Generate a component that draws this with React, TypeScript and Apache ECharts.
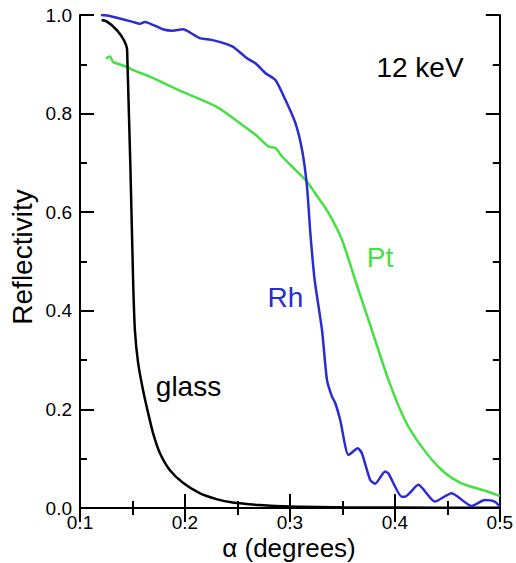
import React, { useEffect, useRef } from "react";
import * as echarts from "echarts";

const xTicks = [0.1, 0.2, 0.3, 0.4, 0.5];
const yTicks = [0, 0.2, 0.4, 0.6, 0.8, 1.0];

const glass: [number, number][] = [
  [0.1206, 0.99], [0.1254, 0.987], [0.1349, 0.97], [0.1418, 0.949], [0.1449, 0.929],
  [0.1506, 0.4625], [0.1523, 0.361], [0.1554, 0.294], [0.1601, 0.239], [0.1649, 0.193],
  [0.1696, 0.152], [0.176, 0.112], [0.1855, 0.077], [0.1981, 0.051], [0.214, 0.03],
  [0.2299, 0.018], [0.2454, 0.011], [0.271, 0.006], [0.3, 0.003], [0.35, 0.0015],
  [0.4, 0.001], [0.5, 0.0005],
];

const rh: [number, number][] = [
  [0.12, 1.0], [0.1285, 0.998], [0.1504, 0.986], [0.157, 0.982], [0.1618, 0.986],
  [0.1789, 0.971], [0.1884, 0.968], [0.1979, 0.971], [0.214, 0.953], [0.2264, 0.949],
  [0.2454, 0.936], [0.2587, 0.913], [0.2672, 0.902], [0.2767, 0.882], [0.2862, 0.868],
  [0.2957, 0.828], [0.3052, 0.781], [0.3116, 0.726], [0.3163, 0.652], [0.3195, 0.557],
  [0.3236, 0.4625], [0.3306, 0.361], [0.3353, 0.26], [0.3401, 0.226], [0.3432, 0.213],
  [0.348, 0.178], [0.3559, 0.1075], [0.3648, 0.121], [0.3686, 0.111], [0.3765, 0.057],
  [0.3812, 0.049], [0.3907, 0.074], [0.3939, 0.07], [0.4066, 0.023], [0.4097, 0.023],
  [0.4224, 0.047], [0.4382, 0.013], [0.4541, 0.03], [0.4731, 0.004], [0.4857, 0.016],
  [0.4952, 0.013], [0.5, 0.003],
];

const pt: [number, number][] = [
  [0.1247, 0.912], [0.1285, 0.916], [0.1316, 0.905], [0.1444, 0.895], [0.1506, 0.888],
  [0.1665, 0.875], [0.1979, 0.844], [0.2299, 0.814], [0.252, 0.781], [0.2672, 0.757],
  [0.2799, 0.733], [0.2862, 0.73], [0.2926, 0.713], [0.3052, 0.686], [0.3163, 0.662],
  [0.3242, 0.638], [0.3369, 0.598], [0.3496, 0.544], [0.3622, 0.4625], [0.3781, 0.361],
  [0.3939, 0.26], [0.4097, 0.178], [0.4256, 0.124], [0.4446, 0.077], [0.4636, 0.05],
  [0.4889, 0.033], [0.5, 0.024],
];

const BLUE = "#2b2bd4";
const GREEN = "#44e044";
const FONT = "Liberation Sans, Arial, Helvetica, sans-serif";

export default function App() {
  const ref = useRef<HTMLDivElement>(null);
  useEffect(() => {
    if (!ref.current) return;
    const chart = echarts.init(ref.current, null, { renderer: "svg" });
    const axisCommon = (show: boolean) => ({
      axisLine: { show: true, lineStyle: { color: "#000", width: 2 } },
      axisTick: { show: true, inside: true, length: 14, lineStyle: { color: "#000", width: 2 } },
      minorTick: { show: true, splitNumber: 2, length: 7, lineStyle: { color: "#000", width: 2 } },
      splitLine: { show: false },
      minorSplitLine: { show: false },
      axisLabel: {
        show,
        color: "#000",
        fontSize: 19,
        fontFamily: FONT,
        formatter: (v: number) => v.toFixed(1),
      },
    });
    const xBase = {
      type: "value" as const,
      min: xTicks[0],
      max: xTicks[xTicks.length - 1],
      interval: 0.1,
    };
    const yBase = {
      type: "value" as const,
      min: yTicks[0],
      max: yTicks[yTicks.length - 1],
      interval: 0.2,
    };
    chart.setOption({
      animation: false,
      backgroundColor: "#fff",
      grid: { left: 80, right: 15, top: 15, bottom: 55, containLabel: false },
      xAxis: [
        { ...xBase, position: "bottom", ...axisCommon(true), axisLabel: { ...axisCommon(true).axisLabel, margin: 5 } },
        { ...xBase, position: "top", ...axisCommon(false) },
      ],
      yAxis: [
        { ...yBase, position: "left", ...axisCommon(true), axisLabel: { ...axisCommon(true).axisLabel, margin: 8 } },
        { ...yBase, position: "right", ...axisCommon(false) },
      ],
      series: [
        { type: "line", data: glass, showSymbol: false, smooth: 0.25, lineStyle: { color: "#000", width: 2.5 }, z: 3 },
        { type: "line", data: pt, showSymbol: false, smooth: 0.25, lineStyle: { color: GREEN, width: 2.5 }, z: 2 },
        { type: "line", data: rh, showSymbol: false, smooth: 0.2, lineStyle: { color: BLUE, width: 2.5 }, z: 4 },
      ],
      graphic: [
        { type: "text", x: 420, y: 67, style: { text: "12 keV", fill: "#000", font: `28px ${FONT}`, align: "center", verticalAlign: "middle" } },
        { type: "text", x: 380, y: 257, style: { text: "Pt", fill: GREEN, font: `28px ${FONT}`, align: "center", verticalAlign: "middle" } },
        { type: "text", x: 285.5, y: 297, style: { text: "Rh", fill: BLUE, font: `28px ${FONT}`, align: "center", verticalAlign: "middle" } },
        { type: "text", x: 188.5, y: 386, style: { text: "glass", fill: "#000", font: `28px ${FONT}`, align: "center", verticalAlign: "middle" } },
        { type: "text", x: 22, y: 257, rotation: Math.PI / 2, style: { text: "Reflectivity", fill: "#000", font: `28px ${FONT}`, align: "center", verticalAlign: "middle" } },
        { type: "text", x: 289, y: 548, style: { text: "α (degrees)", fill: "#000", font: `26px ${FONT}`, align: "center", verticalAlign: "middle" } },
      ],
    });
    return () => chart.dispose();
  }, []);
  return (
    <div
      ref={ref}
      style={{ position: "fixed", left: 0, top: 0, width: 516, height: 563, background: "#fff" }}
    />
  );
}
